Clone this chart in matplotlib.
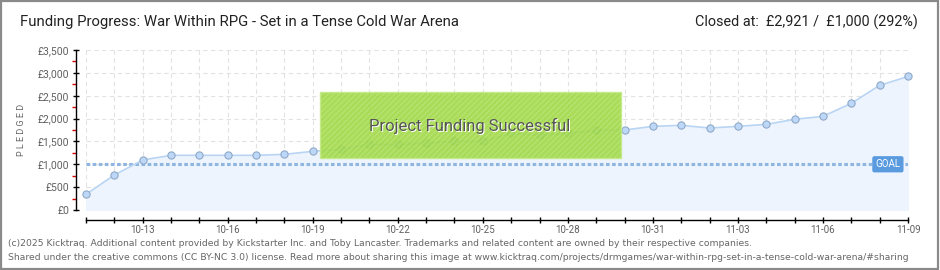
import numpy as np
import matplotlib
matplotlib.use("Agg")
from matplotlib import pyplot as plt
from matplotlib.patches import Rectangle
from matplotlib.ticker import FuncFormatter, MultipleLocator

# Daily pledged totals (GBP)
dates = ["10-11", "10-12", "10-13", "10-14", "10-15", "10-16", "10-17", "10-18",
         "10-19", "10-20", "10-21", "10-22", "10-23", "10-24", "10-25", "10-26",
         "10-27", "10-28", "10-29", "10-30", "10-31", "11-01", "11-02", "11-03",
         "11-04", "11-05", "11-06", "11-07", "11-08", "11-09"]
pledged = [343, 766, 1094, 1196, 1196, 1196, 1196, 1218,
           1283, 1327, 1437, 1437, 1459, 1503, 1503, 1677,
           1640, 1677, 1743, 1750, 1830, 1852, 1794, 1830,
           1874, 1984, 2049, 2333, 2727, 2921]
goal = 1000

plt.rcParams["font.family"] = ["Roboto", "DejaVu Sans"]
plt.rcParams["hatch.color"] = "#96cc3e"
plt.rcParams["hatch.linewidth"] = 0.5

W, H = 940, 270
fig = plt.figure(figsize=(W / 100, H / 100), dpi=100)
fig.patch.set_facecolor("white")

# frame around the whole image
fig.add_artist(Rectangle((0.001, 0.002), 0.997, 0.995, transform=fig.transFigure,
                         fill=False, edgecolor="#8a8a8a", linewidth=1.6))

# data area in pixels: x 86..908, y 50..210
ax = fig.add_axes([86 / W, (H - 210) / H, (908 - 86) / W, 160 / H])
x = np.arange(len(dates))

ax.fill_between(x, pledged, 0, color="#edf4fd", zorder=1)
ax.plot(x, pledged, color="#b9d5f3", linewidth=1.2, zorder=3)
ax.scatter(x, pledged, s=27, facecolor="#bcd7f7", edgecolor="#8fa9c8",
           linewidth=0.8, zorder=4, clip_on=False)
ax.axhline(goal, color="#8fb6e0", linewidth=2.2, linestyle=(0, (1.2, 0.8)), zorder=2)

ax.set_xlim(0, len(dates) - 1)
ax.set_ylim(0, 3500)

ax.yaxis.set_major_locator(MultipleLocator(500))
ax.yaxis.set_minor_locator(MultipleLocator(250))
ax.yaxis.set_major_formatter(FuncFormatter(lambda v, p: "£{:,.0f}".format(v)))
ax.set_xticks(x)
ax.set_xticklabels([d if i % 3 == 2 else "" for i, d in enumerate(dates)])

ax.grid(True, which="major", color="#e2e2e2", linestyle=(0, (4, 3)), linewidth=0.8)
ax.set_axisbelow(True)

for s in ["top", "right"]:
    ax.spines[s].set_visible(False)
ax.spines["left"].set_position(("outward", 7.2))
ax.spines["bottom"].set_position(("outward", 7.2))
ax.spines["left"].set_linewidth(1.0)
ax.spines["bottom"].set_linewidth(1.0)

ax.tick_params(axis="y", which="major", direction="inout", length=4, width=1,
               labelsize=7.5, labelcolor="#606060", pad=3)
ax.tick_params(axis="y", which="minor", direction="out", length=3, width=1,
               color="#e00000")
ax.tick_params(axis="x", which="major", direction="inout", length=5, width=1,
               labelsize=7, labelcolor="#606060", pad=1)
ax.set_ylabel("P L E D G E D", fontsize=6.5, color="#666666", labelpad=8)

# success banner
ax.add_patch(Rectangle((0.285, 0.325), 0.366, 0.411, transform=ax.transAxes,
                       facecolor="#9ed842", edgecolor="#c4ea88", linewidth=1,
                       alpha=0.88, zorder=5, hatch="//////"))
ax.text(0.468, 0.519, "Project Funding Successful", transform=ax.transAxes,
        ha="center", va="center", fontsize=12, color="white", zorder=6)
ax.text(0.4665, 0.525, "Project Funding Successful", transform=ax.transAxes,
        ha="center", va="center", fontsize=12, color="#555555", zorder=7)

# goal tag
ax.text(27.85, goal, "GOAL", fontsize=7, color="white", ha="left", va="center",
        zorder=6, bbox=dict(boxstyle="round,pad=0.25,rounding_size=0.15",
                            facecolor="#5a9be0", edgecolor="#5a9be0"))

fig.text(20 / W, 1 - 22 / H, "Funding Progress: War Within RPG - Set in a Tense Cold War Arena",
         fontsize=10.7, color="#222222", ha="left", va="center")
fig.text(918 / W, 1 - 22 / H, "Closed at:  £2,921 /  £1,000 (292%)",
         fontsize=10.4, color="#222222", ha="right", va="center")

foot = dict(fontsize=6.65, color="#666666", ha="left", va="center", family="DejaVu Sans")
fig.text(8 / W, 1 - 244 / H,
         "(c)2025 Kicktraq. Additional content provided by Kickstarter Inc. and Toby Lancaster. "
         "Trademarks and related content are owned by their respective companies.", **foot)
fig.text(8 / W, 1 - 258 / H,
         "Shared under the creative commons (CC BY-NC 3.0) license. Read more about sharing this image at "
         "www.kicktraq.com/projects/drmgames/war-within-rpg-set-in-a-tense-cold-war-arena/#sharing", **foot)

fig.savefig("out.png", dpi=100, facecolor="white")
